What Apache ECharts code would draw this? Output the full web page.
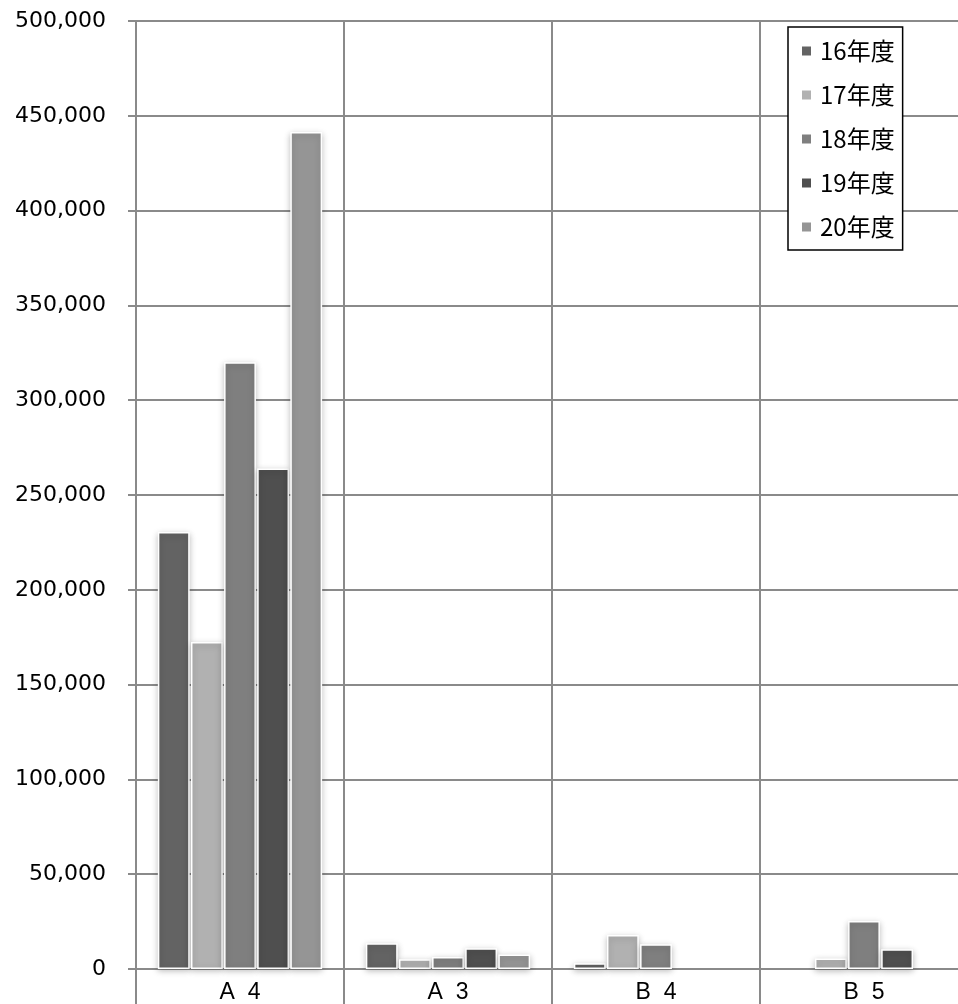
<!DOCTYPE html>
<html>
<head>
<meta charset="utf-8">
<script src="https://cdn.jsdelivr.net/npm/echarts@6/dist/echarts.min.js"></script>
<style>
html,body{margin:0;padding:0;background:#fff;}
#chart{width:958px;height:1004px;}
</style>
</head>
<body>
<div id="chart"></div>
<script>
var categories = ['A 4', 'A 3', 'B 4', 'B 5'];
var seriesNames = ['16年度', '17年度', '18年度', '19年度', '20年度'];
var v16 = [230500, 13600, 3000, null];
var v17 = [172500, 5100, 17900, 5600];
var v18 = [320000, 6300, 13000, 25300];
var v19 = [264000, 10900, null, 10400];
var v20 = [441500, 7700, null, null];
var yTicks = [0, 50000, 100000, 150000, 200000, 250000, 300000, 350000, 400000, 450000, 500000];

var colors = ['#636363', '#b1b1b1', '#7f7f7f', '#4f4f4f', '#959595'];
var allValues = [v16, v17, v18, v19, v20];

var chart = echarts.init(document.getElementById('chart'), null, {renderer: 'canvas'});
var gridColor = '#8a8a8a';

var series = seriesNames.map(function (name, i) {
  return {
    name: name,
    type: 'bar',
    data: allValues[i],
    barGap: '4%',
    barCategoryGap: '21%',
    itemStyle: {
      color: colors[i],
      borderColor: '#ffffff',
      borderWidth: 1.5,
      shadowBlur: 6,
      shadowColor: 'rgba(0,0,0,0.25)',
      shadowOffsetY: 2
    },
    emphasis: {disabled: true}
  };
});

chart.setOption({
  animation: false,
  backgroundColor: '#ffffff',
  color: colors,
  grid: {left: 136, top: 21, width: 832, height: 948, containLabel: false, outerBoundsMode: 'none'},
  legend: {
    orient: 'vertical',
    left: 788,
    top: 27,
    data: seriesNames,
    icon: 'rect',
    itemWidth: 11,
    itemHeight: 11,
    itemGap: 20,
    padding: [12, 8, 11, 12],
    borderColor: '#000000',
    borderWidth: 1.5,
    backgroundColor: '#ffffff',
    textStyle: {
      fontFamily: "'Noto Sans CJK JP', sans-serif",
      fontSize: 24,
      lineHeight: 23,
      color: '#000',
      padding: [0, 0, 0, 3]
    }
  },
  xAxis: {
    type: 'category',
    data: categories,
    axisLine: {lineStyle: {color: gridColor, width: 2}},
    axisTick: {show: true, length: 40, lineStyle: {color: gridColor, width: 2}},
    splitLine: {show: true, lineStyle: {color: gridColor, width: 2}},
    axisLabel: {
      margin: 12,
      fontFamily: "'Liberation Sans', Arial, sans-serif",
      fontSize: 23,
      color: '#000',
      formatter: function (v) { return v.replace(' ', '  '); }
    }
  },
  yAxis: {
    type: 'value',
    min: yTicks[0],
    max: yTicks[yTicks.length - 1],
    interval: yTicks[1] - yTicks[0],
    axisLine: {show: true, lineStyle: {color: gridColor, width: 2}},
    axisTick: {show: true, length: 8, lineStyle: {color: gridColor, width: 2}},
    splitLine: {show: true, lineStyle: {color: gridColor, width: 2}},
    axisLabel: {
      margin: 30,
      fontFamily: "'DejaVu Sans', sans-serif",
      fontSize: 22,
      color: '#000',
      formatter: function (v) { return v.toLocaleString('en-US'); }
    }
  },
  series: series
});
</script>
</body>
</html>
